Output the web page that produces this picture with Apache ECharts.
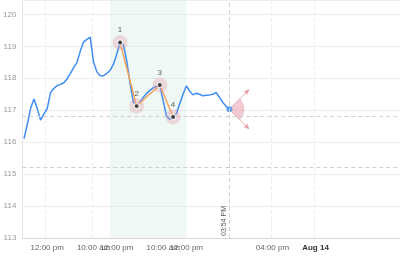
<!DOCTYPE html>
<html><head><meta charset="utf-8">
<script src="https://cdn.jsdelivr.net/npm/echarts@6/dist/echarts.min.js"></script>
<style>html,body{margin:0;padding:0;background:#fff}#c{width:400px;height:259px}</style>
</head><body><div id="c"></div>
<script>
// slots on the (gap-free) time axis
const SLOT_COUNT = 114;
// x tick labels
const tickIndex = [7, 21, 28, 42, 49, 75, 88];
const tickText = ['12:00 pm', '10:00 am', '12:00 pm', '10:00 am', '12:00 pm', '04:00 pm', 'Aug 14'];
const gridTickIndex = [7, 21, 75, 88];
// price series
const prices = [
  116.11, 116.56, 117.06, 117.35, 117.05, 116.69, 116.88, 117.05, 117.55, 117.68,
  117.77, 117.81, 117.86, 117.98, 118.15, 118.33, 118.50, 118.85, 119.14, 119.22,
  119.29, 118.50, 118.20, 118.08, 118.08, 118.15, 118.25, 118.44, 118.75, 119.12,
  119.05, 118.55, 117.85, 117.25, 117.15, 117.25, 117.40, 117.52, 117.62, 117.70,
  117.75, 117.78, 117.30, 116.82, 116.72, 116.75, 116.90, 117.20, 117.50, 117.76,
  117.60, 117.48, 117.53, 117.50, 117.45, 117.47, 117.48, 117.50, 117.56, 117.40,
  117.25, 117.12, 117.03
];
// drawn pattern points
const patternIndex = [29, 34, 41, 45];
const patternValue = [119.12, 117.13, 117.79, 116.79];
const patternLabel = ['1', '2', '3', '4'];
// highlighted range
const highlightRange = [26, 49];
// crosshair
const crossIndex = 62;
const crossLabel = '03:54 PM';
// horizontal levels
const levels = [116.8, 115.2];

const categories = [];
for (let i = 0; i < SLOT_COUNT; i++) categories.push('t' + i);
const lastIdx = prices.length - 1;

const chart = echarts.init(document.getElementById('c'), null, {renderer: 'canvas'});
const FONT = 'Liberation Sans, Arial, sans-serif';

chart.setOption({
  animation: false,
  textStyle: {fontFamily: FONT},
  grid: {left: 20, right: 0, top: 0, bottom: 21, containLabel: false},
  xAxis: {
    type: 'category',
    data: categories,
    boundaryGap: true,
    axisLine: {lineStyle: {color: '#d6d6d6'}},
    axisTick: {show: false},
    axisLabel: {
      interval: (i) => tickIndex.includes(i),
      formatter: (v, i) => {
        const k = tickIndex.indexOf(i);
        if (k < 0) return '';
        return tickText[k] === 'Aug 14' ? '{b|' + tickText[k] + '}' : tickText[k];
      },
      color: '#666', fontSize: 8, margin: 6, fontFamily: FONT,
      rich: {b: {fontWeight: 'bold', color: '#333', fontSize: 8, fontFamily: FONT}}
    },
    splitLine: {show: true, interval: (i) => gridTickIndex.includes(i), lineStyle: {color: '#eee', type: 'dashed', width: 1}}
  },
  yAxis: {
    type: 'value',
    min: 113, max: 120.45, interval: 1,
    axisLine: {show: true, lineStyle: {color: '#e3e3e3'}},
    axisTick: {show: false},
    axisLabel: {
      color: '#999', fontSize: 8, margin: 6, fontFamily: FONT, showMaxLabel: false,
      formatter: (v) => Number.isInteger(Math.round(v * 1000) / 1000) ? String(Math.round(v)) : ''
    },
    splitLine: {lineStyle: {color: '#eeeeee'}}
  },
  series: [
    {
      type: 'line', data: prices, showSymbol: false, z: 3,
      lineStyle: {color: '#3f8cf2', width: 1.5},
      itemStyle: {color: '#3f8cf2'},
      markArea: {
        silent: true,
        itemStyle: {color: 'rgba(205,232,220,0.32)'},
        data: [[{xAxis: highlightRange[0]}, {xAxis: highlightRange[1]}]]
      },
      markLine: {
        silent: true, symbol: 'none', animation: false,
        lineStyle: {type: [4, 3], color: '#cfcfcf', width: 1},
        data: [
          {xAxis: crossIndex, label: {show: true, formatter: crossLabel, position: 'insideStartTop', color: '#555', fontSize: 7, distance: 2, fontFamily: FONT}},
          ...levels.map(v => ({yAxis: v, label: {show: false}}))
        ]
      }
    },
    {
      type: 'scatter', z: 4, symbolSize: 6,
      data: [[lastIdx, prices[lastIdx]]],
      itemStyle: {color: '#3f8cf2'}
    },
    {
      type: 'line', z: 5, showSymbol: false,
      data: patternIndex.map((x, i) => [x, patternValue[i]]),
      lineStyle: {color: '#f6a15a', width: 1.5}
    },
    {
      type: 'scatter', z: 6, symbolSize: 15,
      data: patternIndex.map((x, i) => ({value: [x, patternValue[i]], label: {formatter: patternLabel[i]}})),
      itemStyle: {color: 'rgba(225,150,165,0.4)'},
      label: {show: true, position: 'top', distance: 1, color: '#333', fontSize: 8, fontFamily: FONT}
    },
    {
      type: 'scatter', z: 7, symbolSize: 5,
      data: patternIndex.map((x, i) => [x, patternValue[i]]),
      itemStyle: {color: '#222', borderColor: '#fff', borderWidth: 1.2}
    },
    {
      type: 'custom', z: 2, silent: true,
      data: [[lastIdx, prices[lastIdx]]],
      encode: {x: 0, y: 1},
      renderItem: function (params, api) {
        const c = api.coord([api.value(0), api.value(1)]);
        const a = 45 * Math.PI / 180;
        const L = 27;
        const col = 'rgba(225,145,158,0.75)';
        const kids = [{
          type: 'sector',
          shape: {cx: c[0], cy: c[1], r: 15, r0: 2, startAngle: -a, endAngle: a},
          style: {fill: 'rgba(228,150,165,0.5)'}
        }];
        [-1, 1].forEach(s => {
          const ex = c[0] + L * Math.cos(a), ey = c[1] + s * L * Math.sin(a);
          const ux = Math.cos(a), uy = s * Math.sin(a);
          const px = -uy, py = ux;
          kids.push({type: 'line', shape: {x1: c[0] + 3 * ux, y1: c[1] + 3 * uy, x2: ex, y2: ey}, style: {stroke: col, lineWidth: 1}});
          kids.push({type: 'polygon', shape: {points: [
            [ex + 1.5 * ux, ey + 1.5 * uy],
            [ex - 4 * ux + 2.5 * px, ey - 4 * uy + 2.5 * py],
            [ex - 4 * ux - 2.5 * px, ey - 4 * uy - 2.5 * py]
          ]}, style: {fill: col}});
        });
        return {type: 'group', children: kids};
      }
    }
  ]
});
</script>
</body></html>
